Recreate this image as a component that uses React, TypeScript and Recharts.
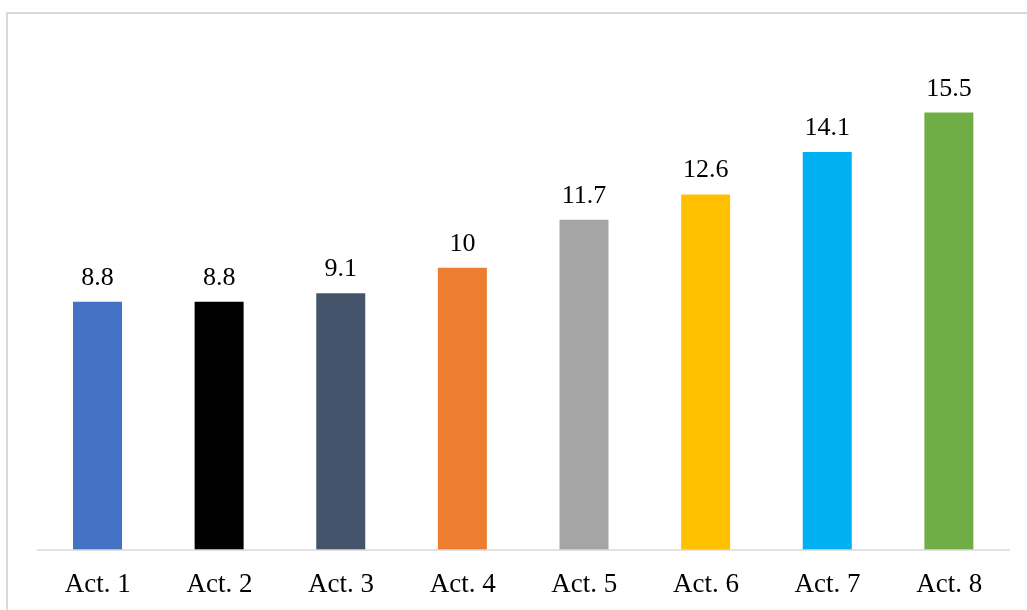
import React from "react";
import { BarChart, Bar, XAxis, YAxis, Cell, LabelList } from "recharts";

const activities = ["Act. 1", "Act. 2", "Act. 3", "Act. 4", "Act. 5", "Act. 6", "Act. 7", "Act. 8"];
const values = [8.8, 8.8, 9.1, 10, 11.7, 12.6, 14.1, 15.5];
const colors = ["#4472C4", "#000000", "#44546A", "#ED7D31", "#A5A5A5", "#FFC000", "#00B0F0", "#70AD47"];

const data = activities.map((name, i) => ({ name, value: values[i] }));

const font = "'Times New Roman', 'Liberation Serif', serif";

export default function App() {
  return (
    <div>
      <div
        style={{
          position: "fixed",
          left: 6,
          top: 12,
          right: 0,
          bottom: 0,
          borderLeft: "2px solid #d9d9d9",
          borderTop: "2px solid #d9d9d9",
        }}
      />
      <div style={{ position: "fixed", left: 0, top: 0 }}>
        <BarChart
          width={1027}
          height={610}
          data={data}
          margin={{ top: 42, right: 17, bottom: 10, left: 37 }}
        >
          <XAxis
            dataKey="name"
            height={50}
            tickLine={false}
            tickSize={0}
            tickMargin={23}
            axisLine={{ stroke: "#d9d9d9", strokeWidth: 1.5 }}
            tick={{ fontSize: 27, fill: "#000", fontFamily: font }}
            interval={0}
          />
          <YAxis hide domain={[0, 18]} />
          <Bar dataKey="value" barSize={49} isAnimationActive={false}>
            {data.map((d, i) => (
              <Cell key={d.name} fill={colors[i]} />
            ))}
            <LabelList
              dataKey="value"
              position="top"
              offset={17}
              style={{ fontSize: 26, fill: "#000", fontFamily: font }}
            />
          </Bar>
        </BarChart>
      </div>
    </div>
  );
}
